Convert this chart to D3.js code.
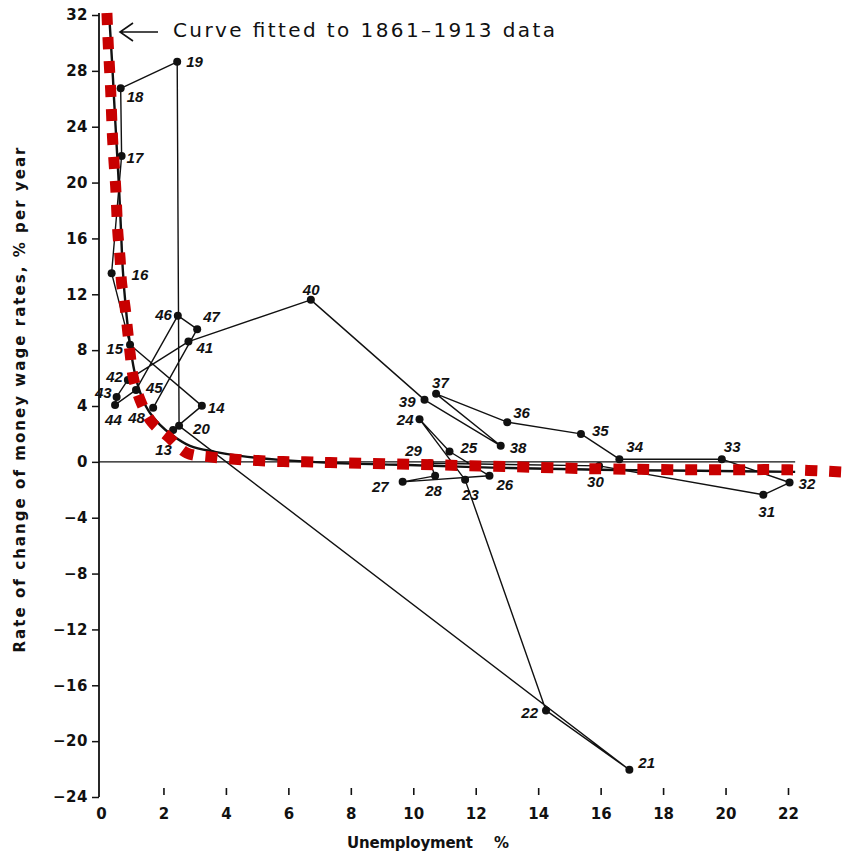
<!DOCTYPE html>
<html><head><meta charset="utf-8">
<script src="https://cdn.jsdelivr.net/npm/d3@7"></script>
<style>body{margin:0;background:#fff} svg{display:block}</style>
</head><body>
<svg id="c" width="842" height="852"></svg>
<script>
// ---- data ----
const years = ["13","14","15","16","17","18","19","20","21","22","23","24","25","26","27","28","29","30",
  "31","32","33","34","35","36","37","38","39","40","41","42","43","44","45","46","47","48"];
const unemployment = [2.31,3.23,0.93,0.34,0.66,0.63,2.44,2.50,16.92,14.25,11.66,10.20,11.16,12.44,9.66,10.70,10.54,15.95,
  21.21,22.05,19.88,16.60,15.37,13.01,10.73,12.80,10.36,6.72,2.80,0.86,0.50,0.45,1.12,2.46,3.08,1.67];
const wageChange = [2.29,4.01,8.38,13.51,21.9,26.75,28.65,2.58,-22.05,-17.8,-1.29,3.06,0.74,-1.0,-1.43,-1.0,-0.1,-0.29,
  -2.36,-1.48,0.19,0.19,2.0,2.84,4.87,1.15,4.44,11.6,8.61,5.87,4.65,4.08,5.15,10.47,9.5,3.87];

// fitted curve (1861-1913), black line
const fitU = [0.26,0.35,0.42,0.51,0.58,0.64,0.70,0.80,0.93,1.06,1.25,1.51,1.89,2.27,2.85,3.65,4.45,5.73,7.33,9.58,12.78,15.98,19.18,22.23];
const fitW = [32.07,28.8,25.9,22.3,19.5,16.6,13.7,10.9,8.4,6.6,5.0,3.7,2.65,1.93,1.15,0.72,0.43,0.14,-0.07,-0.21,-0.43,-0.57,-0.64,-0.72];

// red dotted overlay of the curve
const hlU = [0.19,0.23,0.27,0.31,0.34,0.37,0.42,0.47,0.54,0.61,0.66,0.77,0.85,0.93,1.03,1.25,1.62,2.16,2.75,3.49,4.29,5.03,5.83,6.53,7.33,12.14,15.98,19.18,22.07,23.7];
const hlW = [32.14,30.0,28.3,26.6,24.8,23.18,21.38,19.7,16.4,14.6,12.8,11.1,9.45,7.8,6.09,4.44,2.86,1.79,0.64,0.36,0.19,0.09,0.02,0.0,-0.05,-0.29,-0.5,-0.57,-0.57,-0.72];

const xTicks = [0,2,4,6,8,10,12,14,16,18,20,22];
const yTicks = [32,28,24,20,16,12,8,4,0,-4,-8,-12,-16,-20,-24];

const xTitle = "Unemployment";
const xUnit = "%";
const yTitle = "Rate of change of money wage rates, % per year";
const note = "Curve fitted to 1861\u20131913 data";

// ---- layout (label placement, not data) ----
const labelPos = {
  "13":[-18,25,"start"],"14":[6,7,"start"],"15":[-7,9,"end"],"16":[20,7,"start"],"17":[5,7,"start"],
  "18":[6,14,"start"],"19":[9,5,"start"],"20":[14,8,"start"],"21":[9,-2,"start"],"22":[-8,8,"end"],
  "23":[-3,20,"start"],"24":[-6,6,"end"],"25":[11,1,"start"],"26":[7,14,"start"],"27":[-14,10,"end"],
  "28":[-10,20,"start"],"29":[-25,-7,"start"],"30":[-12,21,"start"],"31":[-5,22,"start"],"32":[9,6,"start"],
  "33":[2,-7,"start"],"34":[7,-7,"start"],"35":[11,2,"start"],"36":[6,-4,"start"],"37":[-4,-6,"start"],
  "38":[9,7,"start"],"39":[-9,7,"end"],"40":[-8,-5,"start"],"41":[8,11,"start"],"42":[-5,2,"end"],
  "43":[-5,1,"end"],"44":[-10,20,"start"],"45":[10,3,"start"],"46":[-6,4,"end"],"47":[6,-7,"start"],
  "48":[-25,15,"start"]
};

const svg = d3.select("#c");
const x = d3.scaleLinear().domain([0,22]).range([101,788]);
const y = d3.scaleLinear().domain([-24,32]).range([797,15]);
const ink = "#111";

// y axis
const yAx = svg.append("g").attr("transform","translate(99,0)")
  .call(d3.axisLeft(y).tickValues(yTicks).tickSize(7).tickSizeOuter(0).tickPadding(4)
    .tickFormat(d => d < 0 ? "\u2212" + Math.abs(d) : String(d)));
yAx.select(".domain").attr("stroke",ink).attr("stroke-width",1.8).attr("d","M0,13V797");
yAx.selectAll(".tick line").attr("stroke",ink).attr("stroke-width",1.5);
yAx.selectAll(".tick text").attr("font-family","DejaVu Sans").attr("font-size",15).attr("fill",ink).attr("font-weight","bold")
  .attr("letter-spacing","0.5");

// x axis (short tick marks, no line)
const xAx = svg.append("g").attr("transform","translate(0,788)")
  .call(d3.axisBottom(x).tickValues(xTicks).tickSize(7).tickSizeOuter(0).tickPadding(13));
xAx.select(".domain").remove();
xAx.selectAll(".tick line").attr("stroke",ink).attr("stroke-width",1.6).attr("opacity",d => d===0?0:1);
xAx.selectAll(".tick text").attr("font-family","DejaVu Sans").attr("font-size",15).attr("fill",ink).attr("font-weight","bold");

// zero line
svg.append("line").attr("x1",99).attr("x2",x(22.23)).attr("y1",y(0)).attr("y2",y(0))
  .attr("stroke",ink).attr("stroke-width",1.3);

// titles
svg.append("text").attr("x",347).attr("y",848).attr("font-family","DejaVu Sans").attr("font-size",15)
  .attr("font-weight","bold").attr("fill",ink).attr("textLength",126).attr("lengthAdjust","spacing").text(xTitle);
svg.append("text").attr("x",494).attr("y",848).attr("font-family","DejaVu Sans").attr("font-size",15)
  .attr("font-weight","bold").attr("fill",ink).text(xUnit);
svg.append("text").attr("transform","translate(25,400) rotate(-90)").attr("text-anchor","middle")
  .attr("font-family","DejaVu Sans").attr("font-size",15).attr("font-weight","bold").attr("fill",ink)
  .attr("textLength",505).attr("lengthAdjust","spacing").text(yTitle);

// annotation + arrow
svg.append("text").attr("x",173).attr("y",37).attr("font-family","DejaVu Sans").attr("font-size",20)
  .attr("fill",ink).attr("textLength",382).attr("lengthAdjust","spacing").text(note);
svg.append("path").attr("d","M158,32H120M133,23L120,32L133,41").attr("fill","none").attr("stroke",ink).attr("stroke-width",1.6);

// fitted curve
const fitPts = fitU.map((u,i)=>[u,fitW[i]]);
svg.append("path").attr("d", d3.line().x(d=>x(d[0])).y(d=>y(d[1])).curve(d3.curveCatmullRom)(fitPts))
  .attr("fill","none").attr("stroke",ink).attr("stroke-width",2.4);

// year-to-year connecting lines
const pts = years.map((yr,i)=>({yr, u:unemployment[i], w:wageChange[i]}));
svg.append("path").attr("d", d3.line().x(d=>x(d.u)).y(d=>y(d.w))(pts))
  .attr("fill","none").attr("stroke",ink).attr("stroke-width",1.4).attr("stroke-linejoin","round");

// dots
svg.selectAll("circle.pt").data(pts).join("circle").attr("class","pt")
  .attr("cx",d=>x(d.u)).attr("cy",d=>y(d.w)).attr("r",4).attr("fill",ink);

// year labels
svg.selectAll("text.yr").data(pts).join("text").attr("class","yr")
  .attr("x",d=>x(d.u)+labelPos[d.yr][0]).attr("y",d=>y(d.w)+labelPos[d.yr][1])
  .attr("text-anchor",d=>labelPos[d.yr][2])
  .attr("font-family","Liberation Sans").attr("font-style","italic").attr("font-weight","bold")
  .attr("font-size",15).attr("fill",ink).text(d=>d.yr);

// red dotted highlight
const hlPts = hlU.map((u,i)=>[u,hlW[i]]);
svg.append("path").attr("d", d3.line().x(d=>x(d[0])).y(d=>y(d[1])).curve(d3.curveCatmullRom)(hlPts))
  .attr("fill","none").attr("stroke","#c80000").attr("stroke-width",11).attr("stroke-dasharray","12,12");
</script>
</body></html>
